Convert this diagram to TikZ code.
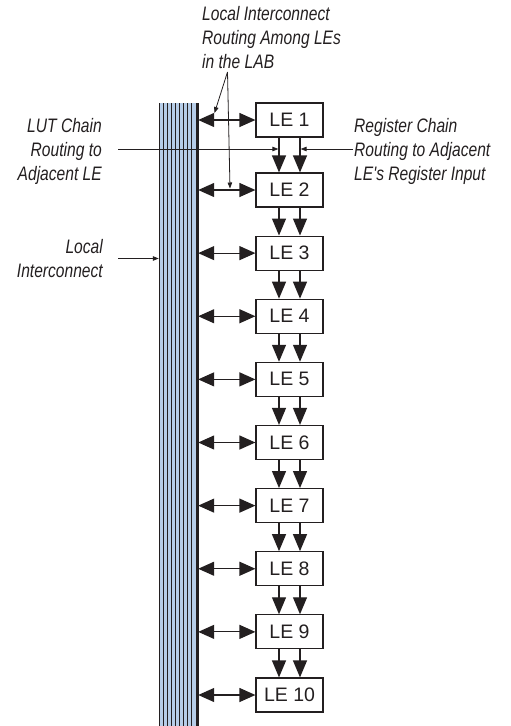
\documentclass[tikz,border=0pt]{standalone}
\usepackage{fontspec}
\setmainfont{Liberation Sans}
\newfontfamily\lblfont[FakeStretch=0.8]{Liberation Sans}
\usetikzlibrary{arrows.meta}
\definecolor{busblue}{RGB}{182,205,232}
\definecolor{ink}{RGB}{35,31,32}
\begin{document}
\begin{tikzpicture}[x=1pt,y=-1pt,
  lebox/.style={draw=ink, line width=1.2pt, minimum width=67pt, minimum height=34pt,
    inner sep=0pt, font=\fontsize{19.5}{22}\selectfont, text=ink},
  lbl/.style={font=\lblfont\itshape\fontsize{19.5}{24}\selectfont, text=ink, inner sep=0pt},
  bigarr/.style={-{Triangle[length=17pt,width=14pt]}, line width=1.2pt, draw=ink},
  dblarr/.style={{Triangle[length=16pt,width=14pt]}-{Triangle[length=16pt,width=14pt]}, line width=1.2pt, draw=ink},
  thinarr/.style={-{Triangle[length=6pt,width=4.5pt]}, line width=0.8pt, draw=ink}]
\useasboundingbox (0,0) rectangle (511,726);
% bus
\node[fill=busblue, inner sep=0pt, minimum width=39pt, minimum height=623pt] (bus) at (178.5,414.5) {};
\foreach \k in {0,...,8} {
  \fill[ink] (159+4*\k,103) rectangle (160.4+4*\k,726);
}
\fill[ink] (195.5,103) rectangle (198.5,726);
% LE boxes
\node[lebox] (le1) at (289.5,120) {LE 1};
\foreach \i in {2,...,10} {
  \node[lebox] (le\i) at (289.5,{190+63.125*(\i-2)}) {LE \i};
}
% horizontal double arrows
\foreach \i in {1,...,10} {
  \draw[dblarr] (bus.east |- le\i.west) -- (le\i.west);
}
% vertical arrows
\foreach \i [evaluate=\i as \j using int(\i+1)] in {1,...,9} {
  \draw[bigarr] ([xshift=-10.5pt]le\i.south) -- ([xshift=-10.5pt]le\j.north);
  \draw[bigarr] ([xshift=10.5pt]le\i.south) -- ([xshift=10.5pt]le\j.north);
}
% labels (base anchor = baseline of last line)
\node[lbl, anchor=base west, align=left] (toplbl) at (202,68.5)
  {Local Interconnect\\Routing Among LEs\\in the LAB};
\node[lbl, anchor=base east, align=right] (lutlbl) at (102,180)
  {LUT Chain\\Routing to\\Adjacent LE};
\node[lbl, anchor=base west, align=left] (reglbl) at (354,180)
  {Register Chain\\Routing to Adjacent\\LE's Register Input};
\node[lbl, anchor=base east, align=right] (loclbl) at (103,277)
  {Local\\Interconnect};
% pointers
\coordinate (fork) at (227.5,72);
\coordinate (p1) at (214.5,113);
\coordinate (p2) at (230,188.5);
\draw[thinarr] (fork) -- (p1);
\draw[thinarr] (fork) -- (p2);
\coordinate (lutS) at (118,149);
\coordinate (lutE) at (278.4,149);
\draw[thinarr] (lutS) -- (lutE);
\coordinate (regS) at (353,149);
\coordinate (regE) at (300.6,149);
\draw[thinarr] (regS) -- (regE);
\coordinate (locS) at (118,258.5);
\draw[thinarr] (locS) -- (bus.west |- locS);
\end{tikzpicture}
\end{document}
